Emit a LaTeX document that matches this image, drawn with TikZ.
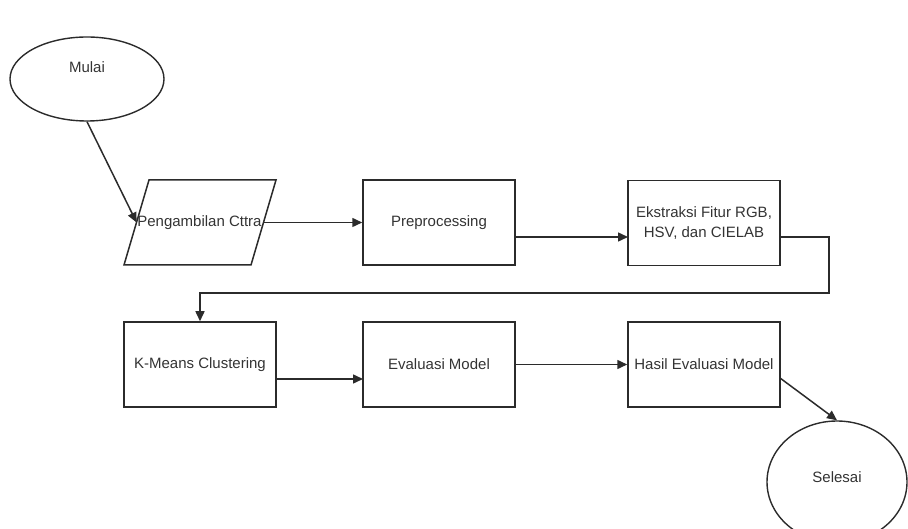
\documentclass[tikz,border=0pt]{standalone}
\usepackage{fontspec}
\setmainfont{Liberation Sans}
\usetikzlibrary{shapes.geometric,arrows.meta}
\definecolor{ln}{HTML}{2B2B2B}
\definecolor{tx}{HTML}{333333}
\tikzset{
  box/.style={draw=ln, line width=1.5pt, minimum width=152pt, minimum height=85pt, inner sep=0pt, font=\fontsize{15}{20}\selectfont, text=tx, align=center},
  oval/.style={draw=ln, line width=1.4pt, ellipse, inner sep=0pt},
  lbl/.style={font=\fontsize{15}{20}\selectfont, text=tx, inner sep=0pt},
  con/.style={draw=ln, line width=1.5pt},
  arr/.style={con, -{Triangle[length=10pt,width=9pt]}}
}
\begin{document}
\begin{tikzpicture}[x=1pt,y=-1pt]
\useasboundingbox (0,0) rectangle (908,529);
\node[oval, minimum width=154pt, minimum height=84pt] (mulai) at (87,79) {};
\node[lbl] (mulaiT) at (87,67) {Mulai};
% parallelogram
\coordinate (q1) at (149,180);
\coordinate (q2) at (276,180);
\coordinate (q3) at (251,265);
\coordinate (q4) at (124,265);
\draw[con, line join=miter] (q1) -- (q2) -- (q3) -- (q4) -- cycle;
\coordinate (pcW) at (136.6,222.5);
\coordinate (pcE) at (263.6,222.5);
\node[lbl] (pc) at (199.5,222.5) {Pengambilan Cttra};
\node[box] (pre) at (439,222.5) {Preprocessing};
\node[box] (ek) at (704,223) {Ekstraksi Fitur RGB,\\HSV, dan CIELAB};
\node[box] (km) at (200,364.5) {K-Means Clustering};
\node[box] (ev) at (439,364.5) {Evaluasi Model};
\node[box] (ha) at (704,364.5) {Hasil Evaluasi Model};
\node[oval, minimum width=140pt, minimum height=122pt] (sel) at (837,482) {};
\node[lbl] (selT) at (837,477) {Selesai};

\coordinate (p1) at (515,237);
\coordinate (p2) at (628,237);
\coordinate (e1) at (780,237);
\coordinate (e2) at (829,237);
\coordinate (e3) at (829,293);
\coordinate (e4) at (200,293);
\coordinate (k1) at (276,379);
\coordinate (k2) at (363,379);
\coordinate (h1) at (780,378);

\draw[arr] (mulai.south) -- (pcW);
\draw[arr] (pcE) -- (pre.west);
\draw[arr] (p1) -- (p2);
\draw[arr] (e1) -- (e2) -- (e3) -- (e4) -- (km.north);
\draw[arr] (k1) -- (k2);
\draw[arr] (ev.east) -- (ha.west);
\draw[arr] (h1) -- (sel.north);
\end{tikzpicture}
\end{document}
